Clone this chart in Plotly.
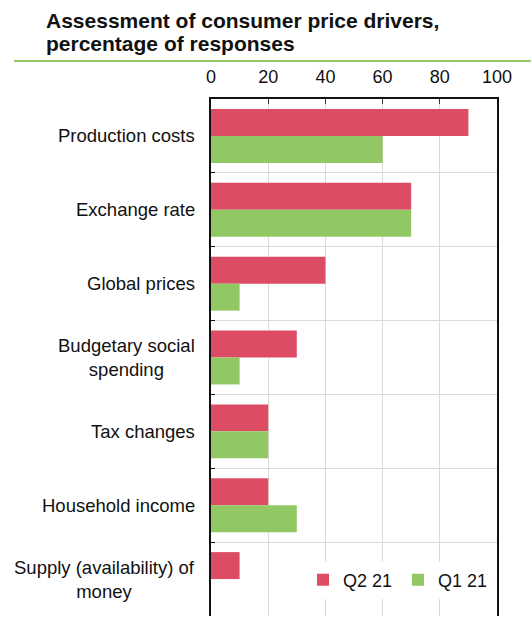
import plotly.graph_objects as go

categories = [
    "Production costs",
    "Exchange rate",
    "Global prices",
    "Budgetary social<br>spending",
    "Tax changes",
    "Household income",
    "Supply (availability) of<br>money",
]
q2_21 = [90, 70, 40, 30, 20, 20, 10]
q1_21 = [60, 70, 10, 10, 20, 30, 0]
x_ticks = [0, 20, 40, 60, 80, 100]
title_lines = ["Assessment of consumer price drivers,", "percentage of responses"]

RED = "#DC4C64"
GREEN = "#92C864"
FONT = "Liberation Sans, Arial, sans-serif"
GRID = "#DCDCD4"

W, H = 531, 617
ML, MR, MT, MB = 211, 34, 99, 1
pw = W - ML - MR
ph = H - MT - MB

def px_x(px):
    return (px - ML) / pw

def px_y(py):
    return 1 - (py - MT) / ph

fig = go.Figure()
fig.add_trace(go.Bar(y=categories, x=q2_21, orientation="h", name="Q2 21",
                     marker=dict(color=RED, line=dict(width=0))))
fig.add_trace(go.Bar(y=categories, x=q1_21, orientation="h", name="Q1 21",
                     marker=dict(color=GREEN, line=dict(width=0))))

annotations = []
for c in categories:
    annotations.append(dict(text=c, x=0, y=c, xref="paper", yref="y",
                            xanchor="right", yanchor="middle", align="center",
                            xshift=-14, showarrow=False,
                            font=dict(family=FONT, size=18.5, color="#111111")))

for line, ymid in zip(title_lines, [20, 43]):
    annotations.append(dict(text="<b>" + line + "</b>", x=px_x(44), y=px_y(ymid),
                            xref="paper", yref="paper", xanchor="left",
                            yanchor="middle", showarrow=False,
                            font=dict(family=FONT, size=21, color="#111111")))

fig.update_layout(
    width=W, height=H,
    margin=dict(l=ML, r=MR, t=MT, b=MB, pad=0),
    paper_bgcolor="white", plot_bgcolor="white",
    barmode="group", bargap=0.27, bargroupgap=0,
    font=dict(family=FONT, size=18, color="#111111"),
    xaxis=dict(side="top", range=[0, 100], tickvals=x_ticks,
               showgrid=True, gridcolor=GRID, gridwidth=1,
               showline=True, linecolor="#111111", linewidth=1.5,
               ticks="inside", ticklen=5, tickcolor="#333333",
               ticklabelstandoff=7, zeroline=False,
               tickfont=dict(family=FONT, size=18, color="#111111")),
    yaxis=dict(type="category", autorange="reversed", tickson="boundaries",
               showticklabels=False, showgrid=True, gridcolor=GRID, gridwidth=1,
               showline=True, linecolor="#111111", linewidth=1.5, mirror=True,
               ticks="inside", ticklen=4, tickcolor="#111111"),
    legend=dict(orientation="h", x=px_x(398), xanchor="center",
                y=px_y(580), yanchor="middle",
                bgcolor="white", borderwidth=0,
                font=dict(family=FONT, size=18, color="#111111"),
                itemwidth=30, entrywidth=50, entrywidthmode="pixels",
                traceorder="normal"),
    annotations=annotations,
    shapes=[dict(type="line", xref="paper", yref="paper",
                 x0=px_x(14), x1=px_x(531), y0=px_y(61), y1=px_y(61),
                 line=dict(color=GREEN, width=2))],
)

fig.write_html("out.html", post_script="document.body.style.margin='0';",
               config={"displayModeBar": False})
